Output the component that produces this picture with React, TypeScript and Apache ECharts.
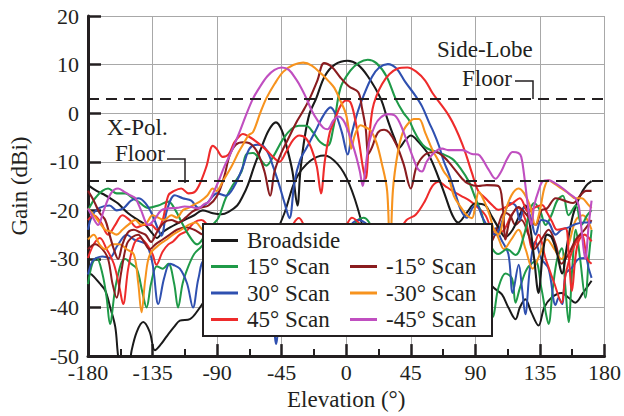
import React, { useEffect, useRef } from "react";
import * as echarts from "echarts";

type Pt = [number, number];

const FONT = '"Liberation Serif", "Times New Roman", serif';
const INK = "#231f20";

const seriesNames = ["Broadside", "15° Scan", "30° Scan", "45° Scan", "-15° Scan", "-30° Scan", "-45° Scan"];
const seriesColors = ["#1a1a1a", "#1f9a48", "#2f50b0", "#ee2b2b", "#8a1c1f", "#f7931e", "#c04fc0"];

const sideLobeFloor = 3;
const xPolFloor = -14;

// Co-polar patterns (Elevation °, Gain dBi)
const broadsideCo: Pt[] = [[-180,-14.8],[-174,-16],[-168,-16.9],[-163,-17.8],[-159,-18.6],[-152,-20.6],[-145,-22],[-140,-23],[-135,-24.8],[-132,-25.7],[-128,-24.5],[-124,-23.7],[-115,-22.3],[-106,-21],[-100,-20],[-93,-20.6],[-87,-20.8],[-82,-20.3],[-76,-19],[-72,-17],[-68.6,-14.8],[-64,-10.8],[-59,-7],[-54,-3.5],[-49,-1.9],[-45,-3.5],[-41,-7.5],[-37.5,-12],[-34,-19],[-32,-12],[-29,-5],[-25.5,0],[-21,3],[-15,7.6],[-8,10],[1,10.8],[8,10],[15,7.6],[24,3],[29,-1.5],[33.4,-5],[37,-7.1],[41,-5.6],[45,-4.6],[50,-5.8],[57.7,-8.7],[64.6,-13.5],[69,-17],[74,-21],[78,-22.5],[84,-20.5],[90,-18.6],[97,-19],[101,-21],[106,-23.5],[111,-25.5],[116,-24],[120,-21.5],[124.8,-19],[128,-23],[131,-30],[134,-37],[137,-29],[140,-25],[143,-25.5],[147,-29],[150.4,-33],[154,-27],[158,-21],[163,-17],[167,-15],[171,-14]];
const scan15Co: Pt[] = [[-180,-20],[-175,-17.5],[-170,-16],[-166,-15.5],[-160,-16.5],[-154,-16.5],[-149,-17.5],[-145,-18.2],[-138,-19.5],[-131,-19],[-124,-18.2],[-119,-20],[-115,-22.3],[-110,-25],[-104,-27],[-98,-25],[-93,-23],[-89,-21.5],[-84,-17.5],[-79,-14.8],[-73,-12],[-69.7,-8.5],[-65,-8.2],[-60,-9.5],[-55.8,-10.8],[-51,-9],[-44,-5.3],[-38,-3.2],[-33,-2.6],[-28,-2.6],[-23,-4],[-18,-6],[-13,-6.7],[-9,-3],[-4,5.2],[3,8.8],[9,10.4],[15,11],[21,10.3],[28,7.6],[34.5,2.9],[40,0],[43.7,-1.4],[47,-3.5],[50.7,-5.5],[55,-7],[60,-7.7],[67,-8.4],[73.9,-9.4],[80,-11.5],[85.5,-14.1],[90,-17.5],[94.7,-21],[98,-25],[101.6,-27.8],[106,-29],[112,-28],[118,-29.2],[124,-25],[128,-20],[131,-18.5],[135,-20],[139,-23],[143,-21],[147,-18],[151,-17],[155,-21],[160,-19],[164,-23],[168,-21],[171,-20]];
const scan30Co: Pt[] = [[-180,-24],[-177,-21],[-172,-19.5],[-165,-19],[-160,-20],[-155,-19.5],[-150,-18],[-145,-17.5],[-140,-18.5],[-135,-21],[-131,-24],[-128.8,-25.2],[-125,-20],[-119.5,-16.9],[-114,-17.5],[-108,-18],[-103,-19.5],[-97,-18.5],[-90,-16.5],[-84,-17],[-78,-15],[-72,-11],[-67.4,-7.3],[-62,-6.5],[-58.2,-6.7],[-54,-8.5],[-51.2,-10.8],[-47,-14.5],[-43,-18.5],[-39.6,-21.6],[-36,-14],[-32,-9.5],[-28,-7.3],[-22,-4],[-16,-0.5],[-11,1.2],[-7,-0.5],[-3,-4],[1,-8.5],[4,-4],[8,0.3],[12.5,3.9],[18,7.5],[23,9.4],[29,10.1],[35,9.2],[41,6.5],[48.4,3.5],[53,1.3],[57.7,-1.9],[61,-4],[64.6,-6.7],[68.1,-10],[71.5,-12.5],[76,-16.5],[80,-20],[84,-21.5],[88,-19.5],[91,-19],[95,-21.5],[100,-24],[104,-25],[109,-22],[114,-18.5],[118,-19],[121,-22],[124,-19.5],[128,-21],[132,-25],[136,-22],[141,-22.5],[146,-25],[150,-24],[155,-23.5],[160,-22.8],[166,-22.5],[171,-22.5]];
const scan45Co: Pt[] = [[-180,-22],[-176,-21],[-171,-22.5],[-166,-25],[-161,-23],[-156,-21],[-151,-22],[-146,-23.5],[-141,-23],[-136,-23],[-132,-24],[-128,-22],[-124,-16.9],[-120,-16],[-115,-15.5],[-110,-16.5],[-105.6,-16.2],[-102,-14.5],[-97.5,-11],[-93,-6.7],[-90.5,-7.3],[-86,-9],[-82,-8.5],[-78,-6],[-74,-4.6],[-72,-4.3],[-68,-4.8],[-62,-6],[-56,-7.5],[-51,-9],[-46.6,-10],[-42,-8],[-37,-5.5],[-32.7,-4.6],[-28,-5.2],[-24,-7.5],[-20.5,-11],[-17.6,-16.5],[-15,-10],[-11.5,-4],[-8.3,-1.6],[-4,1.5],[0,2.6],[3,2.2],[6,-1],[9,-6],[11.5,-11],[13.5,-13.5],[16,-5],[18.3,0.8],[21,3.5],[25,6],[30,8],[36,9.2],[42.6,9.4],[49,8.5],[55,6.7],[60,4.2],[66,1.8],[71.5,-0.5],[76,-3],[80.8,-6.3],[84,-9],[87.7,-12.4],[92,-16],[97,-17.5],[102,-19],[106,-19.9],[110,-19.5],[116,-18.5],[121,-17.5],[127,-20.3],[131,-19.5],[136.4,-18.9],[140,-20.5],[143.4,-22.3],[147,-24],[152.7,-23.7],[155,-29],[157.3,-36.6],[159.6,-30],[161.9,-26.4],[166,-25],[171,-26.4]];
const scanM15Co: Pt[] = [[-180,-16],[-176,-18],[-172,-20.5],[-168,-22],[-165,-25],[-162,-28],[-159,-30],[-156,-27],[-152,-24.5],[-148,-24],[-144,-24.5],[-140,-25],[-136,-26.5],[-132,-24.5],[-127,-22.5],[-122,-22],[-117,-22.5],[-112,-21.5],[-107,-20.2],[-102,-19.5],[-96,-19],[-90,-17],[-85,-13],[-81.3,-8.7],[-77,-6.5],[-72,-6],[-67.4,-6.2],[-62,-8],[-57,-12],[-53,-17],[-50,-12],[-45,-8],[-40,-5],[-35,-2],[-30,0.5],[-25.5,3],[-20,6.8],[-15.5,10.3],[-10,9.5],[-4,7.3],[2,5.5],[8.4,4.3],[11,1],[13.5,-3],[15.5,-8.4],[18,-7],[22,-4],[26.4,-3.4],[30,-4],[35,-6.5],[40,-10.5],[45,-15.5],[49,-11],[55,-8.5],[62.3,-8],[68,-9],[74,-11],[80.8,-13.5],[85,-14.5],[92,-15],[98,-14.8],[106,-15],[109,-19],[111,-26],[114,-22],[120,-19.3],[126,-21],[132,-23],[136,-20],[140,-19.6],[146,-17.5],[152,-18],[158,-18.5],[163,-17],[167,-16],[171,-16]];
const scanM30Co: Pt[] = [[-180,-19.6],[-176,-21],[-172,-22.5],[-168,-24],[-164.7,-24.3],[-160,-25],[-156,-24],[-152,-23],[-147,-22],[-143,-23],[-139,-22.5],[-135,-21],[-131,-21.5],[-127,-22],[-122,-21],[-118,-21.5],[-114,-20],[-110,-19.5],[-106,-18.8],[-102,-18.2],[-97,-17],[-93,-15.5],[-90.5,-16],[-86,-14],[-80,-11],[-75,-8],[-72,-6.5],[-68,-4.5],[-65,-3.9],[-60,0],[-55.8,3],[-50,6],[-44,8.5],[-37,9.9],[-30,10.4],[-24,9.8],[-17,8],[-12,6.5],[-8.3,5.2],[-4,2.5],[-0.2,-0.2],[2,-4],[3.5,-7.3],[6,-4.5],[10,-2.5],[14,-3],[17.1,-3.6],[21,-6],[24.5,-10],[28.5,-16],[30.5,-30],[32.5,-16],[36,-8],[40,-3.5],[43.8,-1.9],[47,-1.2],[50.7,-1.2],[55,-4],[60,-7.5],[64.6,-10],[68,-12],[71.6,-13.5],[75,-17],[79,-19],[84,-21],[87.6,-21.6],[90,-19],[92.4,-16.2],[96,-18],[100,-21],[103,-24],[106.3,-25],[110,-21],[115,-17],[120,-15.5],[124,-16.5],[128,-19],[131.8,-23],[135,-20],[138,-15.5],[141,-13.8],[145,-14.5],[150,-15.5],[155,-16.5],[159.6,-17.5],[164,-17.5],[168.9,-18.9],[171,-19.5]];
const scanM45Co: Pt[] = [[-180,-19.6],[-176.5,-21.5],[-173,-23],[-169,-20],[-164,-16.5],[-159,-15.5],[-154,-16.3],[-150,-17],[-147,-17.5],[-143,-20],[-138,-23],[-134,-22],[-129,-20],[-124,-19.6],[-118,-19.5],[-112.6,-19.2],[-108,-19.3],[-103,-19.6],[-99,-18.7],[-96,-18.3],[-92,-16],[-88.3,-13.5],[-85,-11],[-81.3,-8.7],[-78,-6.5],[-74.4,-3.9],[-70,-0.5],[-65,3],[-60,5.5],[-55,7.6],[-50,8.9],[-45,9.4],[-40,8.9],[-35,7],[-31,5],[-27.7,3],[-24,0.5],[-20,-1.5],[-16,-3],[-13,-3.3],[-9,-1.5],[-5.5,-0.7],[-2,-1.5],[1,-3.5],[4,-6],[7,-9],[9.5,-12],[11.5,-15],[13.5,-11],[16,-6],[20,-2.5],[24,-0.9],[29,-0.2],[33.4,-0.4],[37,-1.8],[42,-5.5],[47,-9.5],[50,-11.5],[52.8,-12],[56,-10],[60,-8.5],[64,-7.5],[67,-7.3],[71,-7.6],[76,-7.6],[81,-7.6],[87.6,-8.4],[92,-8.5],[95,-9.5],[99,-11.5],[104,-13.5],[108,-12],[112,-9.5],[116,-8],[120,-8.2],[122,-9],[124.5,-14],[127,-20],[129,-23],[131,-19],[134,-16],[137,-14],[141,-13.8],[146,-14.5],[151,-15.5],[155,-16.5],[159.6,-17.5],[162,-19],[164,-24],[166.6,-30],[169,-23],[171,-18]];

// Cross-polar patterns
const broadsideX: Pt[] = [[-180,-33],[-177.5,-33.2],[-172,-35],[-168,-36.5],[-164.5,-40],[-161,-44],[-159,-50],[-157,-53],[-152,-53],[-149.7,-49],[-146,-45],[-141.5,-43],[-137,-45],[-133.4,-48.8],[-129,-47.5],[-125.3,-46],[-120,-44],[-116,-42.7],[-109,-42.4],[-102,-40],[-95,-37],[-85,-34],[-75,-32],[-65,-30],[-55,-27],[-49,-24.5],[-43,-20.5],[-35,-13.5],[-25,-9.8],[-15.3,-8.7],[-6,-10.5],[2,-14.5],[10,-21.7],[16,-30],[30,-34],[50,-33],[70,-32],[90,-33],[97,-34.2],[103,-36],[108.5,-37.3],[113,-40],[118,-42.4],[121,-40],[124.8,-38.3],[129,-41],[134,-43.7],[138,-40],[143,-38],[150,-37],[155,-38],[159.6,-39],[165,-37],[171,-34.5]];
const scan15X: Pt[] = [[-180,-35.2],[-177,-31],[-174,-29.8],[-170,-33],[-167,-38],[-164.7,-43.4],[-161,-36],[-157,-31],[-154,-30],[-150,-31],[-146,-32],[-142,-37],[-139.2,-40],[-136,-35],[-132,-31.5],[-128,-32],[-124,-31],[-120,-35],[-117.2,-40],[-114,-35],[-110,-31.5],[-106,-29],[-102,-27.8],[-95,-26],[-70,-30],[-40,-28],[-30,-25],[-20,-26],[0,-25],[8,-22],[12,-21.5],[16,-22.5],[25,-28],[50,-30],[80,-33],[95,-38],[101.6,-42],[106,-36],[111,-33],[115.5,-34],[118,-39],[121,-36],[126,-32],[131.8,-30.5],[136,-36],[139,-41],[141,-43.4],[144,-36],[147,-30],[150.3,-27.8],[152.5,-35],[155,-43],[157.5,-32],[160,-24],[163,-30],[166.6,-38],[169,-30],[171,-24]];
const scan30X: Pt[] = [[-180,-33.2],[-177,-30.5],[-174,-29.8],[-170,-29.5],[-165,-29.8],[-160,-27.5],[-155.5,-25.5],[-153,-25],[-148,-26],[-143,-26.5],[-139,-27.1],[-135,-31],[-131,-39.3],[-127,-34],[-123,-31],[-120.7,-31.2],[-116,-32],[-111,-35],[-106.8,-40],[-103,-34],[-98,-30],[-70,-29],[-58,-30],[-52,-37],[-48.9,-47.5],[-46,-38],[-42,-30],[-30,-30],[0,-24],[8,-22],[15,-23],[30,-28],[60,-30],[80,-30],[95,-27],[101,-25],[104,-23.7],[108,-26],[113,-29],[116,-37],[120.2,-31.2],[122.5,-36],[124.8,-41.4],[128,-32],[131.8,-26.4],[136,-30],[141,-32],[145.9,-39.5],[148,-38],[150.4,-39.3],[153,-33],[157.3,-31.8],[162,-30],[166.6,-29.8],[169,-32],[171,-33.9]];
const scan45X: Pt[] = [[-180,-29.8],[-176,-27],[-171.7,-25.7],[-167,-28],[-162,-31],[-158,-36],[-155.5,-39.3],[-152,-32],[-148,-27],[-143.9,-25.7],[-139,-27],[-135,-29],[-132.3,-31.2],[-128,-28.5],[-124,-27],[-120.7,-26.4],[-116,-25],[-111.4,-24.3],[-106,-22.5],[-101,-22],[-90,-26],[-60,-28],[-40,-24],[-33,-21.6],[-28,-23.5],[-10,-26],[0,-23],[4,-21.5],[10,-23],[20,-27],[35,-25],[42,-22],[48.4,-20.9],[55,-18],[60,-15],[64.6,-14.1],[69,-15],[74,-16],[80,-17],[86,-18],[92,-19.5],[97,-21],[104,-25],[110,-24],[115,-21],[120,-19.5],[125,-22],[130,-28],[134,-25],[139,-30],[145,-35],[150,-39],[153,-33],[158,-28],[164,-25],[168,-30],[171,-31]];
const scanM15X: Pt[] = [[-180,-28],[-175,-27],[-170,-28],[-166,-30],[-163,-35],[-160,-38],[-157,-33],[-153,-27],[-149,-25.5],[-145,-25],[-141,-26.5],[-137,-28],[-133,-27],[-128,-26],[-123,-25],[-118,-24],[-112,-23.5],[-106,-24],[-100,-25],[-70,-28],[-40,-30],[-10,-27],[10,-25],[30,-24],[50,-25],[70,-26],[90,-28],[100,-27],[106,-23],[110,-20.5],[114,-21],[118,-23],[122,-22],[127,-25],[131,-28],[136,-26],[141,-24],[146,-27],[150,-31],[155,-29],[160,-26],[166,-24],[171,-22]];
const scanM30X: Pt[] = [[-180,-26],[-176,-25],[-172,-27],[-168,-28],[-163,-27],[-158,-27],[-153,-28],[-148,-29.1],[-145,-35],[-142.7,-41],[-140,-34],[-136.9,-29.1],[-130,-27],[-125,-26],[-120.7,-25],[-115,-24],[-110,-23],[-105,-22.5],[-100,-24],[-60,-30],[-30,-32],[0,-28],[20,-27],[50,-28],[80,-27],[95,-25],[100,-23],[105,-25],[110,-28],[115,-26],[120,-24],[125,-28],[130,-32],[135,-29],[140,-26],[145,-28],[150,-30],[155,-27],[160,-22],[165,-21],[171,-24]];

const coData: Pt[][] = [broadsideCo, scan15Co, scan30Co, scan45Co, scanM15Co, scanM30Co, scanM45Co];
const xData: (Pt[] | null)[] = [broadsideX, scan15X, scan30X, scan45X, scanM15X, scanM30X, null];

export default function App() {
  const ref = useRef<HTMLDivElement>(null);
  useEffect(() => {
    if (!ref.current) return;
    const chart = echarts.init(ref.current, undefined, { renderer: "svg" });
    const series: any[] = [];
    seriesNames.forEach((name, i) => {
      const xd = xData[i];
      if (xd) {
        series.push({
          type: "line", name, data: xd, showSymbol: false, smooth: 0.35,
          lineStyle: { color: seriesColors[i], width: 2 }, itemStyle: { color: seriesColors[i] }, z: 2,
        });
      }
    });
    seriesNames.forEach((name, i) => {
      series.push({
        type: "line", name, data: coData[i], showSymbol: false, smooth: 0.35,
        lineStyle: { color: seriesColors[i], width: 2.1 }, itemStyle: { color: seriesColors[i] }, z: 3,
      });
    });
    series.push({
      type: "line", name: "floors", data: [], silent: true,
      markLine: {
        silent: true, symbol: "none", label: { show: false },
        lineStyle: { color: INK, width: 2, type: [11, 7] },
        data: [{ yAxis: sideLobeFloor }, { yAxis: xPolFloor }],
      },
    });

    const legendCommon = {
      padding: 0, itemWidth: 27, itemHeight: 3, icon: "rect", itemGap: 3.5,
      selectedMode: false, z: 60,
      textStyle: { fontFamily: FONT, fontSize: 23, color: INK, padding: [0, 0, 0, 4] },
    };

    chart.setOption({
      animation: false,
      backgroundColor: "#ffffff",
      grid: { left: 88, right: 18, top: 16, bottom: 57, containLabel: false },
      xAxis: {
        type: "value", min: -180, max: 180, interval: 45,
        name: "Elevation (°)", nameLocation: "middle", nameGap: 29,
        nameTextStyle: { fontFamily: FONT, fontSize: 23, color: INK },
        axisLine: { show: true, onZero: false, lineStyle: { color: INK, width: 3 } },
        axisTick: { show: true, inside: true, length: 12, lineStyle: { color: INK, width: 2.5 } },
        minorTick: { show: true, splitNumber: 2, length: 7, lineStyle: { color: INK, width: 2 } },
        splitLine: { show: true, lineStyle: { color: "#a8a8a8", width: 1 } },
        axisLabel: { fontFamily: FONT, fontSize: 22, color: INK, margin: 5 },
      },
      yAxis: {
        type: "value", min: -50, max: 20, interval: 10,
        name: "Gain (dBi)", nameLocation: "middle", nameGap: 57,
        nameTextStyle: { fontFamily: FONT, fontSize: 23, color: INK },
        axisLine: { show: true, onZero: false, lineStyle: { color: INK, width: 3 } },
        axisTick: { show: true, inside: true, length: 13, lineStyle: { color: INK, width: 2.5 } },
        splitLine: { show: true, lineStyle: { color: "#a8a8a8", width: 1 } },
        axisLabel: { fontFamily: FONT, fontSize: 22, color: INK, margin: 9 },
      },
      legend: [
        { ...legendCommon, data: ["Broadside"], left: 211, top: 229 },
        { ...legendCommon, data: ["15° Scan", "30° Scan", "45° Scan"], orient: "vertical", left: 211, top: 255 },
        { ...legendCommon, data: ["-15° Scan", "-30° Scan", "-45° Scan"], orient: "vertical", left: 350, top: 255 },
      ],
      graphic: [
        { type: "rect", z: 50, shape: { x: 203, y: 224, width: 289, height: 112 }, style: { fill: "#fff", stroke: INK, lineWidth: 2 } },
        { type: "text", z: 50, x: 437, y: 49, style: { text: "Side-Lobe", fontFamily: FONT, fontSize: 23, fill: INK, verticalAlign: "middle" } },
        { type: "text", z: 50, x: 462, y: 78, style: { text: "Floor", fontFamily: FONT, fontSize: 23, fill: INK, verticalAlign: "middle" } },
        { type: "polyline", z: 50, shape: { points: [[515, 81], [533, 81], [533, 99]] }, style: { stroke: INK, lineWidth: 1.5, fill: "none" } },
        { type: "text", z: 50, x: 107, y: 127, style: { text: "X-Pol.", fontFamily: FONT, fontSize: 23, fill: INK, verticalAlign: "middle" } },
        { type: "text", z: 50, x: 115, y: 153, style: { text: "Floor", fontFamily: FONT, fontSize: 23, fill: INK, verticalAlign: "middle" } },
        { type: "polyline", z: 50, shape: { points: [[167, 159], [185, 159], [185, 183]] }, style: { stroke: INK, lineWidth: 1.5, fill: "none" } },
      ],
      series,
    });
    return () => chart.dispose();
  }, []);
  return <div ref={ref} style={{ position: "fixed", left: 0, top: 0, width: 624, height: 416 }} />;
}
